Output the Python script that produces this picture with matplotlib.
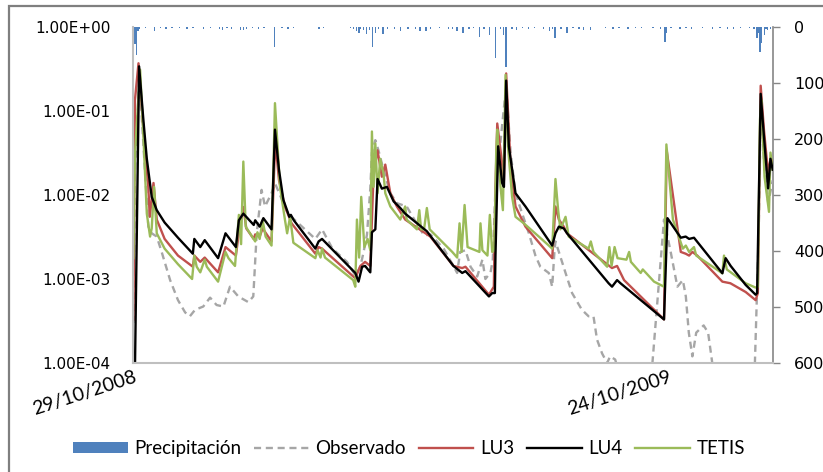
import matplotlib
matplotlib.use("Agg")
import matplotlib.pyplot as plt
from matplotlib.patches import Patch, Rectangle
from matplotlib.lines import Line2D
from matplotlib.ticker import FixedLocator, FixedFormatter, NullLocator

# ---------------- data (day index from 29/10/2008) ----------------
lu4_days = [0, 1, 3.8, 6.7, 9, 12.3, 15.7, 21, 30, 40, 41, 45, 48, 57, 62, 69, 71, 74, 81, 82, 85, 87.5, 93,
            95.3, 98, 101, 105, 106, 108, 122.5, 124.7, 127, 149.4, 151.6, 154, 156, 159.5, 160.6, 162.9,
            164.4, 167.3, 170.7, 175.2, 179.7, 183, 197.6, 215.5, 221.4, 223.6, 239.4, 241.6, 243.4, 243.8,
            245.6, 248.3, 249.5, 251, 252.8, 257.3, 264, 282, 284.2, 286.5, 289.8, 292, 320, 322.3, 325.7,
            328, 357.3, 359.6, 368.6, 371.9, 374.2, 377.5, 396.6, 398.8, 402.2, 412.3, 419, 420, 422.4,
            424.6, 427.4, 429, 430.5]
lu4_vals = [5e-5, 8e-5, 0.34, 0.078, 0.027, 0.0095, 0.0066, 0.0047, 0.0031, 0.0020, 0.0030, 0.0024, 0.0029,
            0.00177, 0.0035, 0.0024, 0.0050, 0.0060, 0.0044, 0.0050, 0.0042, 0.0053, 0.0039,
            0.060, 0.020, 0.0087, 0.0055, 0.0058, 0.0050, 0.0023, 0.0028, 0.0030, 0.00118, 0.00093, 0.0014,
            0.00143, 0.0012, 0.0036, 0.0039, 0.0155, 0.0119, 0.0125, 0.0084, 0.0070, 0.0060, 0.0037,
            0.00143, 0.00118, 0.00124, 0.00062, 0.00068, 0.00068, 0.0019, 0.038, 0.0139, 0.0125, 0.23,
            0.038, 0.0105, 0.0073, 0.0025, 0.0035, 0.0042, 0.0040, 0.0035, 0.00089, 0.00081, 0.00097,
            0.00089, 0.00033, 0.0053, 0.0031, 0.0032, 0.0030, 0.0031, 0.00117, 0.00177, 0.00143, 0.00085,
            0.00065, 0.00068, 0.16, 0.05, 0.012, 0.027, 0.02]

lu3_days = [0, 1, 3.4, 6.7, 10, 11, 13.5, 15.7, 21, 30, 40, 41, 45, 48, 57, 62, 69, 71.5, 74, 76, 81, 82, 85,
            87, 93, 95.5, 98, 102, 106.5, 122.5, 124.7, 127, 149.4, 152.8, 156, 159.5, 161.7, 164.4, 167.3,
            169.6, 173, 177.4, 183, 199.9, 215.5, 221.4, 223.6, 239.4, 242.7, 243.8, 245, 247.9, 249.5, 251,
            254, 257.3, 264, 282, 284.2, 286.5, 289.8, 292, 322.3, 325.7, 330.4, 357.3, 359.1, 368.6, 371.9,
            374.2, 376.4, 379.7, 396.6, 402, 412.3, 419, 420.5, 422.4, 424.6, 427.4, 429, 430.5]
lu3_vals = [0.00033, 0.135, 0.37, 0.060, 0.0125, 0.0055, 0.0139, 0.0051, 0.0030, 0.0019, 0.0014, 0.0019,
            0.0016, 0.0018, 0.0012, 0.0024, 0.0019, 0.0042, 0.0072, 0.0040, 0.0030, 0.0034, 0.0032,
            0.0040, 0.0028, 0.045, 0.015, 0.0073, 0.0046, 0.0020, 0.0024, 0.0023, 0.00102, 0.00143, 0.0016,
            0.00143, 0.018, 0.034, 0.0165, 0.023, 0.0105, 0.0073, 0.0051, 0.0032, 0.00143, 0.00135, 0.0014,
            0.00065, 0.00081, 0.012, 0.071, 0.027, 0.015, 0.28, 0.022, 0.0073, 0.0042, 0.00177, 0.0073,
            0.0051, 0.0042, 0.0035, 0.00135, 0.00143, 0.00097, 0.00033, 0.034, 0.0021, 0.0020, 0.0019,
            0.0021, 0.0019, 0.00093, 0.00089, 0.00070, 0.00056, 0.00068, 0.20, 0.06, 0.018, 0.027, 0.025]

tetis_days = [0, 1, 4.5, 6.7, 9, 11.2, 12.3, 13.9, 15.7, 21, 30, 39.5, 41, 42.6, 45, 48, 49.4, 57, 62, 64,
              68.4, 71, 72.5, 74, 75.6, 82, 83.5, 85, 87, 89, 93, 95.3, 98.7, 102, 103.5, 105.5, 107.7,
              122.5, 124, 126, 127, 129, 148, 149.4, 150.5, 152, 153.4, 155.5, 157.7, 159.5, 160.6, 161.7,
              162.9, 164.4, 166.2, 168.4, 169.6, 173, 179.7, 183, 184, 190.9, 192.5, 193.7, 195.7, 197.6,
              199.5, 214.7, 218, 219.6, 221, 223, 225, 233, 233.7, 235, 238.4, 240, 241.6, 243, 244.3, 245,
              247.2, 248.8, 250.6, 252.2, 255, 257.3, 262.9, 273, 282, 284.2, 286, 287.5, 291, 293.1, 306.5,
              308, 309.8, 319, 320.5, 322, 324, 326, 332, 333.8, 335, 341.6, 343, 350.6, 357.3, 358.9, 361,
              363.3, 370, 372, 374.2, 377.5, 379, 396.6, 397.7, 399.6, 412.3, 419, 420.5, 421.9, 422.8, 425,
              428, 429, 430.5]
tetis_vals = [0.00177, 0.03, 0.31, 0.050, 0.006, 0.0032, 0.0040, 0.0125, 0.0035, 0.0023, 0.0015, 0.0010,
              0.0019, 0.0014, 0.0012, 0.0017, 0.0014, 0.00093, 0.0021, 0.00177, 0.00143, 0.0058, 0.0026,
              0.025, 0.0042, 0.0028, 0.0036, 0.0030, 0.0050, 0.0032, 0.0025, 0.124, 0.0125, 0.0051, 0.0035,
              0.0055, 0.0027, 0.00177, 0.0022, 0.0018, 0.0023, 0.0018, 0.00097, 0.00081, 0.0051, 0.0018,
              0.0095, 0.0024, 0.0030, 0.0022, 0.057, 0.0125, 0.041, 0.0105, 0.027, 0.018, 0.0105, 0.0073,
              0.0051, 0.0073, 0.0051, 0.0039, 0.0066, 0.0039, 0.0039, 0.0070, 0.0039, 0.0021, 0.0018,
              0.0046, 0.0021, 0.0076, 0.0024, 0.0021, 0.0046, 0.0022, 0.0019, 0.0058, 0.0021, 0.0022, 0.032,
              0.06, 0.0125, 0.0066, 0.27, 0.038, 0.0095, 0.0055, 0.0046, 0.0032, 0.0023, 0.0155, 0.0066,
              0.0039, 0.0055, 0.0032, 0.0023, 0.0028, 0.0021, 0.0014, 0.0024, 0.00143, 0.0024, 0.00177,
              0.0017, 0.0021, 0.0016, 0.00118, 0.0013, 0.00093, 0.00081, 0.040, 0.015, 0.0051, 0.0023,
              0.0025, 0.0021, 0.0024, 0.0019, 0.00117, 0.0019, 0.0013, 0.00089, 0.00079, 0.00081, 0.078,
              0.135, 0.0165, 0.0063, 0.032, 0.02]

obs_days = [0, 1, 4, 6.7, 10, 12.3, 15.7, 19, 24.7, 30, 34.8, 38, 41.5, 47, 51.6, 56, 60.6, 65, 70.6, 77.4,
            80.7, 83, 86.3, 88.6, 93, 95.4, 99.8, 104, 122.5, 127, 134, 143.8, 149.4, 152.8, 155, 157.3,
            159.5, 160.6, 162.9, 165, 168.4, 173, 177.4, 184, 191, 195.7, 200, 208.9, 215.5, 218, 220,
            223.6, 227, 231.5, 235, 237, 240.5, 242, 243.8, 246, 251, 254, 257.3, 261.8, 266.3, 270.7, 274,
            279.7, 282, 283.5, 284.2, 286.5, 291, 295.4, 302, 306.5, 309.8, 312.2, 315.6, 319, 321, 324.4,
            330, 349.5, 357.3, 361.8, 366.3, 370, 372, 374, 376.4, 379, 384, 387, 389.8, 392, 418, 421,
            422.5, 425, 427.5, 430.5]
obs_vals = [0.0003, 0.02, 0.25, 0.040, 0.0042, 0.0035, 0.0032, 0.0021, 0.00097, 0.00056, 0.00040, 0.00036,
            0.00043, 0.00047, 0.00060, 0.00049, 0.00047, 0.00081, 0.00062, 0.00053, 0.00062, 0.0035,
            0.0115, 0.0073, 0.0105, 0.0137, 0.0090, 0.0060, 0.0030, 0.0039, 0.0023, 0.0016, 0.0011, 0.0014,
            0.0021, 0.0034, 0.0119, 0.032, 0.045, 0.034, 0.020, 0.0105, 0.0080, 0.0073, 0.0045, 0.0033,
            0.0034, 0.0023, 0.00143, 0.00118, 0.0021, 0.0022, 0.0014, 0.00107, 0.0017, 0.0010, 0.0012,
            0.0017, 0.012, 0.027, 0.20, 0.032, 0.0105, 0.0060, 0.0035, 0.0019, 0.0014, 0.00118, 0.00081,
            0.0021, 0.0028, 0.0021, 0.00118, 0.00068, 0.00043, 0.00036, 0.00036, 0.00019, 0.00013, 0.00010,
            0.00012, 0.00011, 0.00005, 0.0001, 0.0051, 0.0021, 0.00081, 0.00097, 0.00062, 0.00023, 0.00012,
            0.00023, 0.00028, 0.00023, 0.00010, 0.00005, 0.00005, 0.003, 0.12, 0.02, 0.008, 0.015]

precip_days = [1, 2, 3, 4, 8, 14, 18, 22, 26, 31, 36, 40, 47, 52, 58, 60, 63, 66, 72, 74, 76, 80, 84, 88, 95,
               100, 104, 108, 125, 128, 146, 148, 150, 152, 153, 155, 157, 159, 161, 163, 165, 168, 171, 176,
               180, 185, 190, 193, 197, 200, 206, 212, 215, 218, 222, 226, 229, 233, 236, 240, 244, 247, 249,
               251, 255, 258, 262, 266, 270, 276, 280, 282, 284, 288, 292, 296, 300, 303, 308, 318, 323, 327,
               333, 338, 342, 350, 355, 358, 359, 362, 368, 372, 376, 383, 390, 395, 400, 404, 409, 415,
               418, 420, 421, 422, 423, 425, 426, 427, 429]
precip_mm = [30, 50, 8, 3, 2, 8, 2, 3, 2, 2, 3, 2, 3, 2, 3, 5, 2, 3, 5, 6, 3, 2, 3, 2, 35,
             2, 3, 2, 3, 2, 2, 4, 8, 10, 4, 6, 12, 5, 35, 10, 4, 12, 3, 4,
             8, 3, 4, 8, 8, 3, 2, 3, 3, 8, 11, 3, 2, 17, 3, 14, 56, 4, 15,
             71, 3, 6, 2, 4, 2, 3, 8, 4, 20, 3, 10, 2, 3, 5, 5, 2, 3, 2,
             3, 2, 2, 2, 3, 26, 10, 2, 3, 2, 3, 2, 3, 2, 3, 3, 2, 2,
             3, 20, 10, 44, 28, 15, 4, 5, 3]

ytick_vals = [1e-4, 1e-3, 1e-2, 1e-1, 1e0]
ytick_labels = ["1.00E-04", "1.00E-03", "1.00E-02", "1.00E-01", "1.00E+00"]
y2tick_vals = [0, 100, 200, 300, 400, 500, 600]
xtick_days = [0, 360]
xtick_labels = ["29/10/2008", "24/10/2009"]

# ---------------- styles ----------------
C_PRE = "#4F81BD"
C_OBS = "#A6A6A6"
C_LU3 = "#C0504D"
C_LU4 = "#000000"
C_TET = "#9BBB59"
LW = 1.7

fig = plt.figure(figsize=(8.23, 4.72), dpi=100)
ax = fig.add_axes([133 / 823, 1 - 363 / 472, (773 - 133) / 823, (363 - 27) / 472])
ax2 = ax.twinx()

# precipitation bars (secondary axis, inverted)
ax2.bar(precip_days, precip_mm, width=0.9, color=C_PRE, linewidth=0, align="center")
ax2.set_ylim(600, 0)
ax2.yaxis.set_major_locator(FixedLocator(y2tick_vals))
ax2.yaxis.set_minor_locator(NullLocator())
ax2.tick_params(axis="y", direction="out", length=5, width=1, color="#868686",
                labelsize=11.5, pad=10, labelcolor="#000000")
for s in ["top", "left", "bottom"]:
    ax2.spines[s].set_visible(False)
ax2.spines["right"].set_color("#868686")
ax2.spines["right"].set_linewidth(1.2)

# lines on primary (log) axis, drawn above bars
ax.set_zorder(ax2.get_zorder() + 1)
ax.patch.set_visible(False)
ax.plot(obs_days, obs_vals, color=C_OBS, lw=LW, linestyle=(0, (3, 2)))
ax.plot(lu3_days, lu3_vals, color=C_LU3, lw=LW)
ax.plot(tetis_days, tetis_vals, color=C_TET, lw=LW)
ax.plot(lu4_days, lu4_vals, color=C_LU4, lw=LW)

ax.set_yscale("log")
ax.set_ylim(1e-4, 1)
ax.set_xlim(-0.3, 430.7)
ax.yaxis.set_major_locator(FixedLocator(ytick_vals))
ax.yaxis.set_major_formatter(FixedFormatter(ytick_labels))
ax.yaxis.set_minor_locator(NullLocator())
ax.tick_params(axis="y", length=0, labelsize=11, pad=16)
ax.set_xticks(xtick_days)
ax.set_xticklabels(xtick_labels, rotation=18, ha="right", va="top",
                   rotation_mode="anchor", fontsize=14, family="Lato")
ax.tick_params(axis="x", length=0, pad=4)
ax.spines["top"].set_visible(False)
ax.spines["right"].set_visible(False)
ax.spines["left"].set_color("#BFBFBF")
ax.spines["left"].set_linewidth(1.5)
ax.spines["bottom"].set_color("#BFBFBF")
ax.spines["bottom"].set_linewidth(1.5)

# legend
handles = [Patch(facecolor=C_PRE, edgecolor="none"),
           Line2D([], [], color=C_OBS, lw=LW, linestyle=(0, (3, 2))),
           Line2D([], [], color=C_LU3, lw=LW),
           Line2D([], [], color=C_LU4, lw=LW),
           Line2D([], [], color=C_TET, lw=LW)]
labels = ["Precipitación", "Observado", "LU3", "LU4", "TETIS"]
fig.legend(handles, labels, loc="center", bbox_to_anchor=(0.497, 0.05), ncol=5, frameon=False,
           prop={"family": "Lato", "size": 13.5}, handlelength=2.9, handleheight=0.55,
           columnspacing=0.7, handletextpad=0.35)

# outer chart border (only top/left visible in the crop)
fig.patches.append(Rectangle((9 / 823, -0.2), 1.5, 1.2 - 6 / 472, transform=fig.transFigure,
                             fill=False, edgecolor="#7F7F7F", lw=1.6))

fig.savefig("out.png", dpi=100)
